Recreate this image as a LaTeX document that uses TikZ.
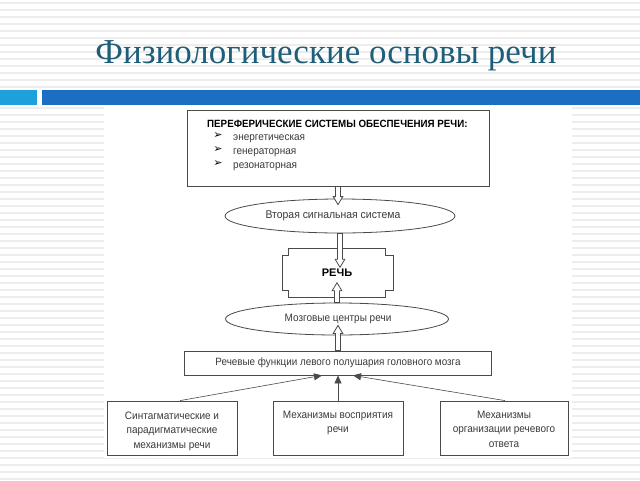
\documentclass[tikz,border=0pt]{standalone}
\usepackage{fontspec}
\setmainfont{Liberation Sans}
\newfontfamily\narrowsans[FakeStretch=0.93]{Liberation Sans}
\newfontfamily\titlefont{Liberation Serif}
\newfontfamily\dejavu{DejaVu Sans}
\usetikzlibrary{shapes.geometric,calc,arrows.meta}
\definecolor{lineg}{HTML}{4A4A4A}
\definecolor{txtg}{HTML}{3A3A3A}
\definecolor{titleblue}{HTML}{1F5E78}
\definecolor{lblue}{HTML}{1EA0DC}
\definecolor{dblue}{HTML}{1A6FC3}
\definecolor{stripe}{HTML}{EDEDED}
\newcommand\hollowarrow[2]{%
  \draw[harrow] let \p1=(#1), \p2=(#2), \n1={sign(\y2-\y1)} in
    (\x1-2.5pt,\y1) -- (\x1-2.5pt,\y2-\n1*8pt) -- (\x1-4.8pt,\y2-\n1*8pt) --
    (\x1,\y2) -- (\x1+4.8pt,\y2-\n1*8pt) -- (\x1+2.5pt,\y2-\n1*8pt) --
    (\x1+2.5pt,\y1) -- cycle;}
\begin{document}
\begin{tikzpicture}[x=1pt,y=-1pt,
  box/.style={draw=lineg, line width=0.8pt, fill=white, inner sep=0pt},
  oval/.style={ellipse, draw=lineg, line width=0.8pt, fill=white, inner sep=0pt},
  txt/.style={font=\narrowsans\fontsize{10.75}{14.5}\selectfont, text=txtg, align=center, inner sep=0pt},
  item/.style={font=\narrowsans\fontsize{10.75}{12}\selectfont, text=txtg, inner sep=0pt, anchor=base west},
  bullet/.style={font=\dejavu\fontsize{11}{11}\selectfont, text=black, inner sep=0pt},
  harrow/.style={draw=lineg, line width=0.8pt, fill=white},
  farrow/.style={draw=lineg, line width=0.6pt, -{Triangle[length=8pt,width=7pt]}}]
\useasboundingbox (0,0) rectangle (640,480);
% background
\fill[white] (0,0) rectangle (640,480);
\foreach \yy in {3,10,...,479} \draw[stripe, line width=1.3pt] (0,\yy) -- (640,\yy);
\fill[white] (104,107) rectangle (572,458);
\fill[white] (0,88) rectangle (640,107);
\fill[lblue] (0,90) rectangle (37,105);
\fill[dblue] (42,90) rectangle (640,105);
\node[font=\titlefont\fontsize{35}{40}\selectfont, text=titleblue, anchor=base, inner sep=0pt] (title) at (326,63) {Физиологические основы речи};
% nodes
\node[box, minimum width=302, minimum height=76] (top) at (338,148) {};
\node[font=\narrowsans\bfseries\fontsize{10.5}{11}\selectfont, anchor=base west, inner sep=0pt] (ptitle) at (207,127) {ПЕРЕФЕРИЧЕСКИЕ СИСТЕМЫ ОБЕСПЕЧЕНИЯ РЕЧИ:};
\node[bullet] (bu1) at (218,136) {➢};
\node[bullet] (bu2) at (218,150) {➢};
\node[bullet] (bu3) at (218,164) {➢};
\node[item] (it1) at (233,140) {энергетическая};
\node[item] (it2) at (233,154.3) {генераторная};
\node[item] (it3) at (233,168) {резонаторная};
\node[oval, minimum width=230, minimum height=34] (e1) at (340,216) {};
\node[txt, font=\narrowsans\fontsize{11.2}{14}\selectfont] (e1t) at (333,216) {Вторая сигнальная система};
\node[inner sep=0pt, minimum width=96, minimum height=49] (rech) at (337,273) {};
\draw[lineg, line width=0.8pt, fill=white]
  (rech.north west) -- (rech.north east) -- ++(0,7) -- ++(8,0) -- ($(rech.south east)+(8,-7)$) -- ++(-8,0) -- (rech.south east)
  -- (rech.south west) -- ++(0,-7) -- ++(-6,0) -- ($(rech.north west)+(-6,7)$) -- ++(6,0) -- cycle;
\node[oval, minimum width=223, minimum height=32] (e2) at (337,319) {};
\node[txt] (e2t) at (338,319) {Мозговые центры речи};
\node[box, minimum width=307, minimum height=24] (func) at (338,363) {};
\node[txt, font=\narrowsans\fontsize{10.6}{14}\selectfont] (funct) at (338,363) {Речевые функции левого полушария головного мозга};
\node[box, minimum width=130, minimum height=54] (b1) at (172,428) {};
\node[box, minimum width=130, minimum height=54] (b2) at (338,428) {};
\node[box, minimum width=128, minimum height=54] (b3) at (504,428) {};
\node[txt] (b1t) at (172,431) {Синтагматические и\\парадигматические\\механизмы речи};
\node[txt] (b2t) at (338,423) {Механизмы восприятия\\речи};
\node[txt] (b3t) at (504,429) {Механизмы\\организации речевого\\ответа};
% hollow arrows
\hollowarrow{top.south}{$(e1.north)+(0,6)$}
\hollowarrow{e1.south}{$(rech.north)+(0,19)$}
\hollowarrow{e2.north}{$(rech.south)+(0,-15)$}
\hollowarrow{func.north}{$(e2.south)+(0,-10)$}
\node[txt, font=\bfseries\fontsize{11}{12}\selectfont, text=black] (recht) at (337,273) {РЕЧЬ};
% filled arrows
\draw[farrow] ($(b1.north)+(8,0)$) -- ($(func.south)+(-16,0)$);
\draw[farrow] (b2.north) -- (func.south);
\draw[farrow] ($(b3.north)+(1,0)$) -- ($(func.south)+(15,0)$);
\end{tikzpicture}
\end{document}
